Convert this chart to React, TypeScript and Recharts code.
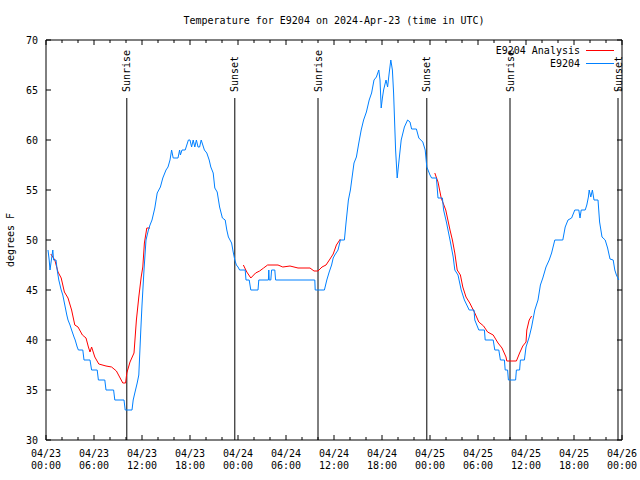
import React from 'react';
import { LineChart, Line, XAxis, YAxis, ReferenceLine, Legend } from 'recharts';

const FONT = '"DejaVu Sans Mono", monospace';

// hours since 2024-04-23 00:00 UTC
const obsHours = [
  0.25, 0.4, 0.5, 0.67, 0.85, 0.95, 1.25, 1.4, 1.6, 1.9, 2.1, 2.35, 2.6, 2.75, 3.0, 3.2, 3.5, 3.65, 3.9, 4.05,
  4.6, 4.75, 5.5, 5.7, 6.4, 6.55, 7.35, 7.5, 8.45, 8.6, 9.75, 9.9, 10.75, 10.9, 11.1, 11.4, 11.6, 11.85, 12.0, 12.25,
  12.5, 12.8, 13.0, 13.25, 13.6, 13.9, 14.3, 14.6, 15.0, 15.25, 15.5, 15.7, 15.9, 16.5, 16.7, 16.8, 17.0, 17.4, 17.6, 17.8,
  18.0, 18.2, 18.4, 18.6, 18.8, 19.0, 19.2, 19.4, 19.6, 19.8, 20.1, 20.4, 20.6, 20.9, 21.1, 21.4, 21.7, 22.05, 22.4, 22.6,
  22.8, 23.2, 23.4, 23.6, 23.8, 24.0, 24.2, 24.9, 25.0, 25.4, 25.6, 26.5, 26.6, 27.8, 27.85, 27.9, 28.1, 28.2, 28.6, 28.7,
  33.6, 33.65, 34.8, 35.1, 35.4, 35.7, 35.9, 36.1, 36.5, 36.8, 37.3, 37.5, 37.8, 38.05, 38.3, 38.5, 38.8, 39.1, 39.4, 39.7,
  40.05, 40.4, 40.7, 41.0, 41.3, 41.6, 41.75, 41.9, 42.05, 42.2, 42.5, 42.7, 42.9, 43.1, 43.3, 43.45, 43.7, 43.9, 44.2, 44.4,
  44.8, 45.2, 45.5, 45.7, 46.3, 46.6, 47.1, 47.4, 47.6, 48.0, 48.2, 48.8, 49.0, 49.55, 49.7, 50.05, 50.5, 50.9, 51.1, 51.5,
  51.9, 52.3, 52.9, 53.5, 53.6, 54.1, 54.8, 54.9, 55.9, 56.1, 56.6, 56.8, 57.3, 57.4, 57.7, 57.8, 58.7, 58.8, 59.2, 59.3,
  59.8, 60.0, 60.4, 60.7, 61.1, 61.5, 61.8, 62.1, 62.5, 62.9, 63.2, 63.6, 64.6, 64.9, 65.25, 65.7, 66.1, 66.6, 66.75, 66.9,
  67.4, 67.6, 67.8, 67.9, 68.1, 68.3, 68.5, 69.0, 69.2, 69.5, 69.9, 70.2, 70.5, 70.9, 71.1, 71.3, 71.6,
];
const obsTemps = [
  49, 48, 47, 48, 49, 48, 48, 47, 46, 45, 44.5, 43.5, 42.5, 42, 41.5, 41, 40.3, 40, 39.3, 39,
  39, 38, 38, 37, 37, 36, 36, 35, 35, 34, 34, 33, 33, 34, 34.7, 35.7, 36.5, 41, 43.5, 47,
  50, 51, 51.5, 52, 53.2, 54.7, 55.3, 56.2, 57, 57.3, 58, 59, 58.2, 58.2, 59, 58.5, 59, 59, 59.5, 60,
  60, 59.3, 60, 59.3, 60, 59.3, 59.3, 60, 59.5, 59, 58.7, 58, 57.3, 56.7, 55.2, 54.8, 53.3, 52.2, 52, 51,
  50.3, 49.7, 48.8, 48, 47.5, 47.3, 47, 47, 46, 46, 45, 45, 46, 46, 47, 46, 46, 47, 47, 46,
  46, 45, 45, 46, 46.8, 47.5, 48.2, 48.5, 49, 50, 50, 51.7, 54, 55, 56.5, 57.7, 58.3, 59.7, 61, 62,
  62.8, 64, 64.7, 66, 66.3, 67, 66, 63.2, 64.2, 65, 66, 65.3, 66.7, 68, 67, 64.7, 59, 56.2, 58.5, 60,
  61.3, 62, 61.8, 61.1, 61.1, 60.2, 59.8, 59, 57.3, 56.5, 56.2, 56.2, 54.2, 54.2, 53, 51.8, 50, 48.3, 47, 46.5,
  45, 44, 43, 43, 42, 41, 41, 40, 40, 39, 39, 38, 38, 37, 37, 36, 36, 37, 37, 38,
  38, 39.3, 40.3, 41.3, 43, 44, 45.5, 46.2, 47.3, 48, 48.7, 50, 50, 51.3, 52, 52.2, 53, 53, 52.2, 53,
  53, 53.5, 54.3, 55, 54.3, 55, 54, 54, 51.8, 50.3, 50, 49.2, 48.1, 48, 47, 46.5, 46,
];

const anaHours = [
  0.6, 1.1, 1.5, 1.9, 2.3, 2.75, 3.2, 3.6, 4.0, 4.55, 5.0, 5.3, 5.5, 5.7, 6.1, 6.6, 7.5, 8.2, 8.8, 9.2,
  9.6, 9.95, 10.1, 10.5, 11.0, 11.3, 11.6, 11.9, 12.1, 12.3, 12.6, 13.0, 18.0,
  24.67, 25.1, 25.6, 26.2, 26.7, 27.2, 27.7, 29.0, 29.6, 30.5, 31.0, 31.5, 33.0, 33.5, 34.0, 34.5, 35.0, 35.5,
  35.9, 36.3, 36.8, 42.0,
  48.6, 49.0, 49.4, 49.97, 50.5, 50.8, 51.1, 51.4, 51.8, 52.1, 52.5, 52.97, 53.6, 54.1, 54.7, 55.2, 55.9, 56.5,
  57.0, 57.5, 57.6, 58.8, 59.2, 59.6, 60.0, 60.1, 60.4, 60.7,
];
const anaTemps = [
  48.6, 48, 46.8, 46.2, 44.8, 44.2, 43, 41.5, 41.3, 40.5, 40.2, 39.3, 38.8, 39.3, 38.3, 37.6, 37.4, 37.3, 36.9, 36.3,
  35.7, 35.7, 36.7, 37.8, 38.7, 42, 44.3, 46.3, 47.3, 49.7, 51.2, 51.2, null,
  47.5, 46.8, 46.2, 46.7, 46.9, 47.2, 47.5, 47.5, 47.3, 47.4, 47.3, 47.2, 47.2, 46.9, 46.9, 47.3, 47.5, 48.1,
  48.6, 49.5, 50.1, null,
  56.7, 55.8, 54.2, 53, 51, 50, 48.7, 47, 46.5, 45.3, 44.3, 43.7, 42.7, 41.8, 41.4, 40.8, 40.5, 39.7,
  39.2, 38.3, 37.9, 37.9, 38.7, 39.4, 39.8, 41, 42, 42.4,
];

const xTicks = [
  0, 2, 4, 6, 8, 10, 12, 14, 16, 18, 20, 22, 24, 26, 28, 30, 32, 34, 36,
  38, 40, 42, 44, 46, 48, 50, 52, 54, 56, 58, 60, 62, 64, 66, 68, 70, 72,
];
const xTickDays = ['04/23', '04/23', '04/23', '04/23', '04/24', '04/24', '04/24', '04/24', '04/25', '04/25', '04/25', '04/25', '04/26'];
const xTickTimes = ['00:00', '06:00', '12:00', '18:00', '00:00', '06:00', '12:00', '18:00', '00:00', '06:00', '12:00', '18:00', '00:00'];
const yTicks = [30, 35, 40, 45, 50, 55, 60, 65, 70];

const sunHours = [10.1, 23.6, 34.0, 47.6, 58.0, 71.5];
const sunNames = ['Sunrise', 'Sunset', 'Sunrise', 'Sunset', 'Sunrise', 'Sunset'];

const legendOrder = ['E9204 Analysis', 'E9204'];

const obsData = obsHours.map((h, i) => ({ h, temp: obsTemps[i] }));
const anaData = anaHours.map((h, i) => ({ h, temp: anaTemps[i] }));

const txt = { fontFamily: FONT, fontSize: 10, fill: '#000' };

const BottomTick = ({ x, y, payload }: any) => {
  const major = payload.value % 6 === 0;
  const k = payload.value / 6;
  return (
    <g>
      <line x1={x} y1={y} x2={x} y2={y - (major ? 5 : 3)} stroke="#000" />
      {major && <text x={x} y={y + 16.5} textAnchor="middle" {...txt}>{xTickDays[k]}</text>}
      {major && <text x={x} y={y + 29} textAnchor="middle" {...txt}>{xTickTimes[k]}</text>}
    </g>
  );
};

const TopTick = ({ x, y, payload }: any) => {
  const major = payload.value % 6 === 0;
  return <line x1={x} y1={y} x2={x} y2={y + (major ? 5 : 3)} stroke="#000" />;
};

const LeftTick = ({ x, y, payload }: any) => (
  <g>
    <line x1={x} y1={y} x2={x + 5} y2={y} stroke="#000" />
    <text x={x - 8} y={y + 3.5} textAnchor="end" {...txt}>{payload.value}</text>
  </g>
);

const RightTick = ({ x, y }: any) => <line x1={x} y1={y} x2={x - 5} y2={y} stroke="#000" />;

const sunLabel = (name: string) => (props: any) => {
  const vb = props.viewBox || {};
  const x = vb.x;
  const y = vb.y - 6;
  return (
    <text
      x={x}
      y={y}
      transform={`rotate(-90 ${x} ${y})`}
      textAnchor="start"
      dominantBaseline="central"
      {...txt}
    >
      {name}
    </text>
  );
};

const renderLegend = ({ payload }: any) => {
  const items = [...(payload || [])].sort(
    (a: any, b: any) => legendOrder.indexOf(a.value) - legendOrder.indexOf(b.value)
  );
  return (
    <div style={{ fontFamily: FONT, fontSize: 10, color: '#000' }}>
      {items.map((p: any) => (
        <div key={p.value} style={{ display: 'flex', justifyContent: 'flex-end', alignItems: 'center', height: 13 }}>
          <span style={{ lineHeight: '13px' }}>{p.value}</span>
          <svg width={36} height={13} style={{ display: 'block' }}>
            <line x1={6} x2={34} y1={6.5} y2={6.5} stroke={p.color} strokeWidth={1} />
          </svg>
        </div>
      ))}
    </div>
  );
};

export default function App() {
  return (
    <div style={{ position: 'absolute', left: 0, top: 0, width: 640, height: 480, background: '#fff' }}>
      <LineChart width={640} height={480} margin={{ top: 0, right: 0, bottom: 0, left: 0 }}>
        <XAxis
          dataKey="h"
          type="number"
          domain={[0, 72]}
          ticks={xTicks}
          interval={0}
          height={40}
          tickSize={0}
          tickMargin={0}
          tickLine={false}
          axisLine={{ stroke: '#000' }}
          tick={<BottomTick />}
          allowDataOverflow
        />
        <XAxis
          xAxisId="top"
          orientation="top"
          dataKey="h"
          type="number"
          domain={[0, 72]}
          ticks={xTicks}
          interval={0}
          height={40}
          tickSize={0}
          tickMargin={0}
          tickLine={false}
          axisLine={{ stroke: '#000' }}
          tick={<TopTick />}
          allowDataOverflow
        />
        <YAxis
          type="number"
          domain={[30, 70]}
          ticks={yTicks}
          interval={0}
          width={46}
          tickSize={0}
          tickMargin={0}
          tickLine={false}
          axisLine={{ stroke: '#000' }}
          tick={<LeftTick />}
          allowDataOverflow
        />
        <YAxis
          yAxisId="right"
          orientation="right"
          type="number"
          domain={[30, 70]}
          ticks={yTicks}
          interval={0}
          width={18}
          tickSize={0}
          tickMargin={0}
          tickLine={false}
          axisLine={{ stroke: '#000' }}
          tick={<RightTick />}
          allowDataOverflow
        />
        {sunHours.map((h, i) => (
          <ReferenceLine
            key={`sun-${i}`}
            segment={[{ x: h, y: 64.2 }, { x: h, y: 30 }]}
            stroke="#000"
            strokeWidth={1}
            label={sunLabel(sunNames[i])}
          />
        ))}
        <Line
          data={anaData}
          dataKey="temp"
          name="E9204 Analysis"
          type="linear"
          stroke="#ff0000"
          strokeWidth={1}
          dot={false}
          activeDot={false}
          isAnimationActive={false}
        />
        <Line
          data={obsData}
          dataKey="temp"
          name="E9204"
          type="linear"
          stroke="#0080ff"
          strokeWidth={1}
          dot={false}
          activeDot={false}
          isAnimationActive={false}
        />
        <Legend
          layout="vertical"
          align="center"
          verticalAlign="middle"
          content={renderLegend}
          wrapperStyle={{ left: 426, top: 43.5, width: 190, height: 26 }}
        />
        <text x={334} y={23.5} textAnchor="middle" {...txt}>
          Temperature for E9204 on 2024-Apr-23 (time in UTC)
        </text>
        <text x={14} y={240} transform="rotate(-90 14 240)" textAnchor="middle" {...txt}>
          degrees F
        </text>
      </LineChart>
    </div>
  );
}
